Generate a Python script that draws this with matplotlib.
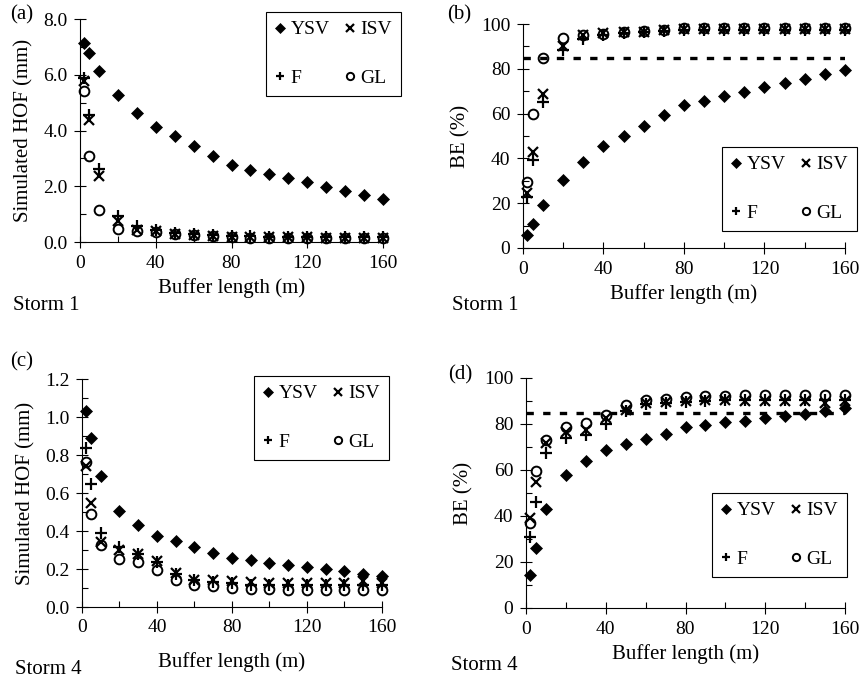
import numpy as np
import matplotlib.pyplot as plt
from matplotlib.ticker import MultipleLocator, FormatStrFormatter
from matplotlib.lines import Line2D

plt.rcParams['font.family'] = ['Liberation Serif', 'DejaVu Serif']
plt.rcParams['font.size'] = 14

# ---------- data ----------
buffer_len = [2, 5, 10, 20, 30, 40, 50, 60, 70, 80, 90, 100, 110, 120, 130, 140, 150, 160]

# Storm 1, simulated HOF (mm)
hof1_ysv = [7.13, 6.77, 6.14, 5.28, 4.64, 4.12, 3.79, 3.43, 3.09, 2.75, 2.59, 2.44, 2.28, 2.14, 1.99, 1.84, 1.70, 1.55]
hof1_isv = [5.76, 4.36, 2.35, 0.74, 0.44, 0.38, 0.30, 0.26, 0.23, 0.19, 0.18, 0.18, 0.17, 0.17, 0.16, 0.16, 0.15, 0.15]
hof1_f = [5.87, 4.56, 2.61, 0.94, 0.56, 0.42, 0.33, 0.28, 0.24, 0.21, 0.20, 0.19, 0.19, 0.18, 0.18, 0.17, 0.17, 0.17]
hof1_gl = [5.40, 3.07, 1.16, 0.47, 0.38, 0.36, 0.30, 0.26, 0.22, 0.17, 0.16, 0.15, 0.15, 0.14, 0.14, 0.13, 0.13, 0.13]

# Storm 1, BE (%)
be1_ysv = [6.0, 10.9, 19.4, 30.3, 38.5, 45.5, 50.1, 54.6, 59.3, 63.7, 65.8, 67.8, 69.7, 71.8, 73.7, 75.4, 77.5, 79.6]
be1_isv = [24.6, 43.0, 68.7, 90.4, 95.2, 96.0, 96.3, 96.6, 97.2, 97.8, 97.8, 97.8, 97.8, 97.8, 97.8, 97.8, 97.8, 97.8]
be1_f = [22.8, 39.5, 65.0, 88.5, 93.3, 95.2, 96.0, 96.3, 96.9, 97.5, 97.5, 97.5, 97.5, 97.5, 97.5, 97.5, 97.5, 97.5]
be1_gl = [29.6, 59.7, 84.8, 93.7, 95.2, 95.5, 96.3, 96.7, 97.5, 98.2, 98.2, 98.2, 98.2, 98.2, 98.2, 98.2, 98.2, 98.2]

# Storm 4, simulated HOF (mm)
hof4_ysv = [1.033, 0.888, 0.689, 0.506, 0.431, 0.374, 0.346, 0.316, 0.286, 0.258, 0.246, 0.234, 0.220, 0.211, 0.199, 0.188, 0.176, 0.165]
hof4_isv = [0.742, 0.545, 0.343, 0.302, 0.281, 0.243, 0.181, 0.144, 0.141, 0.137, 0.132, 0.128, 0.127, 0.127, 0.127, 0.128, 0.135, 0.127]
hof4_f = [0.835, 0.647, 0.390, 0.316, 0.280, 0.237, 0.176, 0.140, 0.132, 0.127, 0.118, 0.115, 0.114, 0.114, 0.114, 0.114, 0.114, 0.114]
hof4_gl = [0.761, 0.492, 0.325, 0.255, 0.237, 0.193, 0.144, 0.114, 0.109, 0.102, 0.097, 0.093, 0.091, 0.091, 0.091, 0.091, 0.091, 0.091]

# Storm 4, BE (%)
be4_ysv = [14.5, 26.3, 43.0, 57.8, 64.1, 68.8, 71.2, 73.5, 75.7, 78.6, 79.7, 80.7, 81.5, 82.8, 83.6, 84.4, 85.5, 86.9]
be4_isv = [39.2, 54.9, 71.9, 76.7, 77.2, 82.6, 85.9, 89.1, 89.4, 89.8, 90.6, 90.6, 90.1, 90.1, 90.1, 90.1, 89.0, 90.1]
be4_f = [31.0, 45.9, 67.3, 73.8, 75.3, 80.1, 85.5, 88.8, 89.1, 89.5, 90.1, 90.3, 90.3, 90.3, 90.3, 90.3, 90.3, 90.3]
be4_gl = [37.1, 59.6, 73.1, 78.6, 80.4, 84.0, 88.4, 90.6, 91.0, 91.6, 92.0, 92.3, 92.7, 92.7, 92.7, 92.7, 92.7, 92.7]

be_target = 85

# marker styles
styles = {
    "YSV": dict(marker="D", ms=6.5, mfc="black", mec="black", mew=0.5),
    "ISV": dict(marker="x", ms=7, mfc="none", mec="black", mew=1.6),
    "F": dict(marker="+", ms=8.5, mfc="none", mec="black", mew=1.6),
    "GL": dict(marker="o", ms=7, mfc="none", mec="black", mew=1.4),
}

W, H = 862, 680
fig = plt.figure(figsize=(W / 100, H / 100), dpi=100)


def px_axes(left, top, right, bottom):
    return fig.add_axes([left / W, 1 - bottom / H, (right - left) / W, (bottom - top) / H])


def style_axes(ax, ymax, ymajor, yminor, fmt, ylabel, xpad, ypad):
    ax.set_xlim(0, 160)
    ax.set_ylim(0, ymax)
    ax.xaxis.set_major_locator(MultipleLocator(40))
    ax.xaxis.set_minor_locator(MultipleLocator(20))
    ax.yaxis.set_major_locator(MultipleLocator(ymajor))
    ax.yaxis.set_minor_locator(MultipleLocator(yminor))
    ax.yaxis.set_major_formatter(FormatStrFormatter(fmt))
    for s in ["top", "right"]:
        ax.spines[s].set_visible(False)
    for s in ["left", "bottom"]:
        ax.spines[s].set_linewidth(0.8)
    ax.tick_params(which="major", direction="inout", length=8, width=0.8, labelsize=14, pad=5)
    ax.tick_params(which="minor", direction="in", length=4, width=0.8)
    ax.set_xlabel("Buffer length (m)", fontsize=15, labelpad=xpad)
    ax.set_ylabel(ylabel, fontsize=15, labelpad=ypad)


def draw(ax, ysv, isv, f, gl, legend_xy, dashed=False):
    data = {"YSV": ysv, "ISV": isv, "F": f, "GL": gl}
    if dashed:
        ax.plot([0, 160], [be_target, be_target], color="black", lw=2.4,
                linestyle=(0, (2.2, 2.8)), zorder=1)
    for name in ["GL", "F", "ISV", "YSV"]:
        ax.plot(buffer_len, data[name], linestyle="none", clip_on=False, zorder=3,
                **styles[name])
    handles = []
    for name in ["YSV", "F", "ISV", "GL"]:
        st = dict(styles[name])
        st["ms"] = st["ms"] * 0.75
        handles.append(Line2D([], [], linestyle="none", **st))
    x, y = legend_xy
    leg = ax.legend(handles, ["YSV", "F", "ISV", "GL"], ncol=2,
                    loc="upper left", bbox_to_anchor=(x / W, 1 - y / H),
                    bbox_transform=fig.transFigure,
                    frameon=True, fancybox=False, framealpha=1, edgecolor="black",
                    handlelength=0.5, handletextpad=0.3, columnspacing=0.8,
                    labelspacing=1.6, borderpad=0.45, borderaxespad=0, fontsize=14)
    leg.get_frame().set_linewidth(0.8)


# (a)
ax_a = px_axes(80, 19, 383, 242)
draw(ax_a, hof1_ysv, hof1_isv, hof1_f, hof1_gl, (266, 12))
style_axes(ax_a, 8.0, 2.0, 1.0, "%.1f", "Simulated HOF (mm)", 5, 7)

# (b)
ax_b = px_axes(523, 24, 845, 248)
draw(ax_b, be1_ysv, be1_isv, be1_f, be1_gl, (722, 147), dashed=True)
style_axes(ax_b, 100, 20, 10, "%d", "BE (%)", 5, 8)

# (c)
ax_c = px_axes(82, 379, 382, 607)
draw(ax_c, hof4_ysv, hof4_isv, hof4_f, hof4_gl, (254, 376))
style_axes(ax_c, 1.2, 0.2, 0.1, "%.1f", "Simulated HOF (mm)", 11, 7)

# (d)
ax_d = px_axes(526, 378, 845, 608)
draw(ax_d, be4_ysv, be4_isv, be4_f, be4_gl, (712, 493), dashed=True)
style_axes(ax_d, 100, 20, 10, "%d", "BE (%)", 5, 8)

# panel letters and storm labels
for txt, x, y in [("(a)", 10, 15), ("(b)", 447, 15), ("(c)", 10, 362), ("(d)", 448, 375)]:
    fig.text(x / W, 1 - y / H, txt, fontsize=15, va="center", ha="left")
for txt, x, y in [("Storm 1", 13, 305), ("Storm 1", 452, 305), ("Storm 4", 15, 670), ("Storm 4", 451, 665)]:
    fig.text(x / W, 1 - y / H, txt, fontsize=15, va="center", ha="left")

fig.savefig("out.png", dpi=100)
